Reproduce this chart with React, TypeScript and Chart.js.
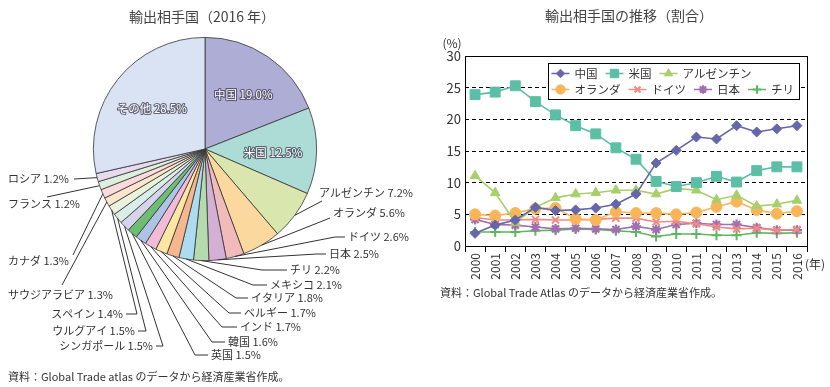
import React, { useEffect, useRef } from "react";
import { Chart, registerables } from "chart.js";
import { drawPoint } from "chart.js/helpers";

Chart.register(...registerables);

const FONT = '"Noto Sans CJK JP", "Noto Sans", sans-serif';
Chart.defaults.font.family = FONT;

// ---------- Pie data ----------
const pieTitle = "輸出相手国（2016 年）";
const pieCountries = [
  "中国", "米国", "アルゼンチン", "オランダ", "ドイツ", "日本", "チリ", "メキシコ",
  "イタリア", "ベルギー", "インド", "韓国", "英国", "シンガポール", "ウルグアイ",
  "スペイン", "サウジアラビア", "カナダ", "フランス", "ロシア", "その他",
];
const pieShares = [
  19.0, 12.5, 7.2, 5.6, 2.6, 2.5, 2.2, 2.1, 1.8, 1.7, 1.7, 1.6, 1.5, 1.5, 1.5,
  1.4, 1.3, 1.3, 1.2, 1.2, 28.5,
];
const pieColors = [
  "#ADADD6", "#ADDBD5", "#D9E6AD", "#FBD89E", "#F2BBBB", "#D4B0D4", "#B3DBAD",
  "#ADDCF2", "#F6B68E", "#FDE6A2", "#F2BBD8", "#ADC4E6", "#6DBE72", "#D4D4EA",
  "#DAEDE8", "#E9F2DA", "#FDE4CC", "#FADADA", "#DEF0DC", "#E6DCEE", "#D9E3F3",
];
const pieSource = "資料：Global Trade atlas のデータから経済産業省作成。";

// label layout (annotation positions): text point, optional elbow, line end
type Lay = { inside?: boolean; tx?: number; ty?: number; align?: CanvasTextAlign; bx?: number; by?: number; ex?: number; ey?: number };
const pieLabelLayout: Lay[] = [
  { inside: true },
  { inside: true },
  { tx: 319, ty: 193, align: "left", ex: 322, ey: 201 },
  { tx: 333, ty: 213, align: "left", ex: 330, ey: 218 },
  { tx: 348, ty: 237, align: "left", bx: 335, by: 237, ex: 345, ey: 237 },
  { tx: 329, ty: 254, align: "left", bx: 317, by: 254, ex: 326, ey: 254 },
  { tx: 290, ty: 270, align: "left", bx: 262, by: 270, ex: 287, ey: 270 },
  { tx: 270, ty: 285, align: "left", bx: 253, by: 285, ex: 267, ey: 285 },
  { tx: 251, ty: 298, align: "left", bx: 236, by: 298, ex: 248, ey: 298 },
  { tx: 244, ty: 313, align: "left", bx: 229, by: 313, ex: 241, ey: 313 },
  { tx: 240, ty: 327, align: "left", bx: 222, by: 327, ex: 237, ey: 327 },
  { tx: 228, ty: 342, align: "left", bx: 212, by: 342, ex: 225, ey: 342 },
  { tx: 211, ty: 355, align: "left", bx: 195, by: 355, ex: 208, ey: 355 },
  { tx: 153, ty: 346, align: "right", bx: 163, by: 346, ex: 156, ey: 346 },
  { tx: 135, ty: 331, align: "right", bx: 146, by: 331, ex: 138, ey: 331 },
  { tx: 123, ty: 314, align: "right", bx: 137, by: 314, ex: 126, ey: 314 },
  { tx: 8, ty: 295, align: "left", ex: 62, ey: 285 },
  { tx: 8, ty: 261, align: "left", ex: 73, ey: 255 },
  { tx: 8, ty: 204, align: "left", ex: 47, ey: 197 },
  { tx: 8, ty: 179, align: "left", ex: 74, ey: 179 },
  { inside: true },
];

// ---------- Line data ----------
const lineTitle = "輸出相手国の推移（割合）";
const years = [
  "2000", "2001", "2002", "2003", "2004", "2005", "2006", "2007", "2008",
  "2009", "2010", "2011", "2012", "2013", "2014", "2015", "2016",
];
const china = [2.0, 3.3, 4.1, 6.1, 5.6, 5.7, 6.0, 6.6, 8.2, 13.1, 15.1, 17.2, 16.9, 19.0, 18.0, 18.5, 19.0];
const usa = [23.9, 24.3, 25.3, 22.8, 20.7, 19.0, 17.7, 15.5, 13.7, 10.2, 9.4, 10.0, 11.0, 10.1, 11.9, 12.5, 12.5];
const argentina = [11.1, 8.4, 3.7, 6.1, 7.6, 8.2, 8.4, 8.8, 8.8, 8.2, 9.1, 8.8, 7.3, 8.0, 6.3, 6.6, 7.2];
const netherlands = [5.0, 4.8, 5.2, 5.9, 6.0, 4.3, 4.1, 5.4, 5.2, 5.2, 5.0, 5.3, 6.2, 7.0, 5.7, 5.1, 5.5];
const germany = [4.5, 4.1, 4.1, 4.2, 4.1, 4.1, 4.2, 4.4, 4.4, 3.8, 3.9, 3.5, 3.0, 2.7, 2.8, 2.5, 2.6];
const japan = [4.2, 3.4, 3.3, 3.0, 2.7, 2.8, 2.7, 2.6, 3.1, 2.6, 3.4, 3.6, 3.4, 3.4, 2.9, 2.5, 2.5];
const chile = [2.2, 2.2, 2.2, 2.4, 2.5, 2.7, 2.6, 2.4, 2.2, 1.5, 1.9, 1.9, 1.7, 1.7, 2.1, 2.0, 2.1];
const seriesNames = ["中国", "米国", "アルゼンチン", "オランダ", "ドイツ", "日本", "チリ"];
const yTicks = [0, 5, 10, 15, 20, 25, 30];
const lineSource = "資料：Global Trade Atlas のデータから経済産業省作成。";

const seriesStyles = [
  { color: "#6666AA", point: "rectRot", r: 5, pw: 1 },
  { color: "#5BBFA6", point: "rect", r: 7, pw: 1 },
  { color: "#A8CF6A", point: "triangle", r: 5.5, pw: 1 },
  { color: "#F9B558", point: "circle", r: 5.5, pw: 1 },
  { color: "#F08A84", point: "crossRot", r: 5, pw: 2 },
  { color: "#9E70AE", point: "star", r: 5, pw: 2.2 },
  { color: "#5DB85D", point: "cross", r: 5, pw: 2 },
];

const piePlugin = {
  id: "pieDecor",
  afterDraw(chart: any) {
    const ctx = chart.ctx as CanvasRenderingContext2D;
    const meta = chart.getDatasetMeta(0);
    ctx.save();
    ctx.fillStyle = "#444";
    ctx.font = `14px ${FONT}`;
    ctx.textAlign = "center";
    ctx.textBaseline = "middle";
    ctx.fillText(pieTitle, 202, 17);

    meta.data.forEach((arc: any, i: number) => {
      const { x, y, startAngle, endAngle, outerRadius } = arc.getProps(
        ["x", "y", "startAngle", "endAngle", "outerRadius"], true);
      const mid = (startAngle + endAngle) / 2;
      const txt = `${pieCountries[i]} ${pieShares[i].toFixed(1)}%`;
      const lay = pieLabelLayout[i];
      ctx.font = `11px ${FONT}`;
      ctx.textBaseline = "middle";
      if (lay.inside) {
        const r = outerRadius * 0.61;
        const px = x + Math.cos(mid) * r;
        const py = y + Math.sin(mid) * r + 2;
        ctx.font = `11.5px ${FONT}`;
        ctx.textAlign = "center";
        ctx.lineJoin = "round";
        ctx.lineWidth = 2.2;
        ctx.strokeStyle = "rgba(60,60,80,0.75)";
        ctx.strokeText(txt, px, py);
        ctx.fillStyle = "#fff";
        ctx.fillText(txt, px, py);
      } else {
        const sx = x + Math.cos(mid) * outerRadius;
        const sy = y + Math.sin(mid) * outerRadius;
        ctx.strokeStyle = "#333";
        ctx.lineWidth = 1;
        ctx.beginPath();
        ctx.moveTo(sx, sy);
        if (lay.bx !== undefined) ctx.lineTo(lay.bx, lay.by!);
        ctx.lineTo(lay.ex!, lay.ey!);
        ctx.stroke();
        ctx.fillStyle = "#333";
        ctx.textAlign = lay.align!;
        ctx.fillText(txt, lay.tx!, lay.ty!);
      }
    });

    ctx.font = `11px ${FONT}`;
    ctx.textAlign = "left";
    ctx.fillStyle = "#333";
    ctx.fillText(pieSource, 8, 377);
    ctx.restore();
  },
};

const lineDecor = {
  id: "lineDecor",
  beforeDatasetsDraw(chart: any) {
    const { ctx, chartArea: a } = chart;
    ctx.save();
    ctx.strokeStyle = "#000";
    ctx.lineWidth = 1;
    ctx.strokeRect(Math.round(a.left) + 0.5, Math.round(a.top) + 0.5,
      Math.round(a.right - a.left), Math.round(a.bottom - a.top));
    ctx.restore();
  },
  afterDraw(chart: any) {
    const ctx = chart.ctx as CanvasRenderingContext2D;
    const a = chart.chartArea;
    ctx.save();
    ctx.fillStyle = "#444";
    ctx.font = `14px ${FONT}`;
    ctx.textAlign = "center";
    ctx.textBaseline = "middle";
    ctx.fillText(lineTitle, 209, 16);

    ctx.fillStyle = "#333";
    ctx.font = `12px ${FONT}`;
    ctx.fillText("(%)", 32, 43);
    ctx.textAlign = "left";
    ctx.fillText("(年)", a.right - 2, 264);

    ctx.font = `11px ${FONT}`;
    ctx.fillText(lineSource, 20, 293);

    // legend box
    const bl = Math.round(a.left + 83) + 0.5;
    const bt = Math.round(a.top + 7) + 0.5;
    const bw = 251, bh = 36;
    ctx.fillStyle = "#fff";
    ctx.fillRect(bl, bt, bw, bh);
    ctx.strokeStyle = "#000";
    ctx.lineWidth = 1;
    ctx.strokeRect(bl, bt, bw, bh);
    const rows = [[0, 1, 2], [3, 4, 5, 6]];
    ctx.font = `11.5px ${FONT}`;
    ctx.textAlign = "left";
    rows.forEach((row, ri) => {
      let cx = bl + 3;
      const cy = bt + 10 + ri * 16;
      row.forEach((si) => {
        const st = seriesStyles[si];
        ctx.strokeStyle = st.color;
        ctx.fillStyle = st.color;
        ctx.lineWidth = 1.5;
        ctx.beginPath();
        ctx.moveTo(cx, cy);
        ctx.lineTo(cx + 18, cy);
        ctx.stroke();
        ctx.lineWidth = st.pw;
        drawPoint(ctx, { pointStyle: st.point, radius: st.r * 0.85, rotation: 0, borderWidth: st.pw } as any, cx + 9, cy);
        ctx.fillStyle = "#333";
        const name = seriesNames[si];
        ctx.fillText(name, cx + 23, cy);
        cx += 23 + ctx.measureText(name).width + 8;
      });
    });
    ctx.restore();
  },
};

function PieChart() {
  const ref = useRef<HTMLCanvasElement>(null);
  useEffect(() => {
    const chart = new Chart(ref.current!, {
      type: "pie",
      data: {
        labels: pieCountries,
        datasets: [{
          data: pieShares,
          backgroundColor: pieColors,
          borderColor: "#333",
          borderWidth: 0.8,
        }],
      },
      options: {
        responsive: false,
        animation: false,
        devicePixelRatio: 1,
        layout: { padding: { left: 93, top: 37, right: 103, bottom: 126 } },
        plugins: { legend: { display: false }, tooltip: { enabled: false } },
      },
      plugins: [piePlugin],
    } as any);
    return () => chart.destroy();
  }, []);
  return <canvas ref={ref} width={420} height={387} style={{ position: "absolute", left: 0, top: 0 }} />;
}

function LineChart() {
  const ref = useRef<HTMLCanvasElement>(null);
  useEffect(() => {
    const series = [china, usa, argentina, netherlands, germany, japan, chile];
    const chart = new Chart(ref.current!, {
      type: "line",
      data: {
        labels: years,
        datasets: series.map((d, i) => ({
          label: seriesNames[i],
          data: d,
          borderColor: seriesStyles[i].color,
          backgroundColor: seriesStyles[i].color,
          pointBackgroundColor: seriesStyles[i].color,
          pointBorderColor: seriesStyles[i].color,
          pointStyle: seriesStyles[i].point,
          pointRadius: seriesStyles[i].r,
          pointBorderWidth: seriesStyles[i].pw,
          borderWidth: 1.6,
          tension: 0,
        })),
      },
      options: {
        responsive: false,
        animation: false,
        devicePixelRatio: 1,
        layout: { padding: { left: 0, top: 56, right: 23, bottom: 91 } },
        plugins: { legend: { display: false }, tooltip: { enabled: false } },
        scales: {
          x: {
            type: "category",
            offset: true,
            afterFit: (s: any) => { s.height = 50; },
            grid: { display: true, drawOnChartArea: false, drawTicks: true, tickLength: 6, offset: true, color: "#000", tickColor: "#000" },
            border: { display: false },
            ticks: { autoSkip: false, minRotation: 90, maxRotation: 90, padding: 1, color: "#333", font: { size: 12, family: FONT } },
          },
          y: {
            min: 0,
            max: 30,
            afterFit: (s: any) => { s.width = 45; },
            afterBuildTicks: (s: any) => { s.ticks = yTicks.map((v) => ({ value: v })); },
            grid: {
              drawTicks: false,
              lineWidth: 1,
              color: (c: any) => (c.tick && (c.tick.value === 0 || c.tick.value === 30) ? "rgba(0,0,0,0)" : "#000"),
            },
            border: { display: false, dash: [4, 3] },
            ticks: { padding: 4, color: "#333", font: { size: 13, family: FONT } },
          },
        },
      },
      plugins: [lineDecor],
    } as any);
    return () => chart.destroy();
  }, []);
  return <canvas ref={ref} width={410} height={387} style={{ position: "absolute", left: 420, top: 0 }} />;
}

export default function App() {
  return (
    <div style={{ position: "absolute", left: 0, top: 0, width: 830, height: 387, background: "#fff", overflow: "hidden" }}>
      <PieChart />
      <LineChart />
    </div>
  );
}
